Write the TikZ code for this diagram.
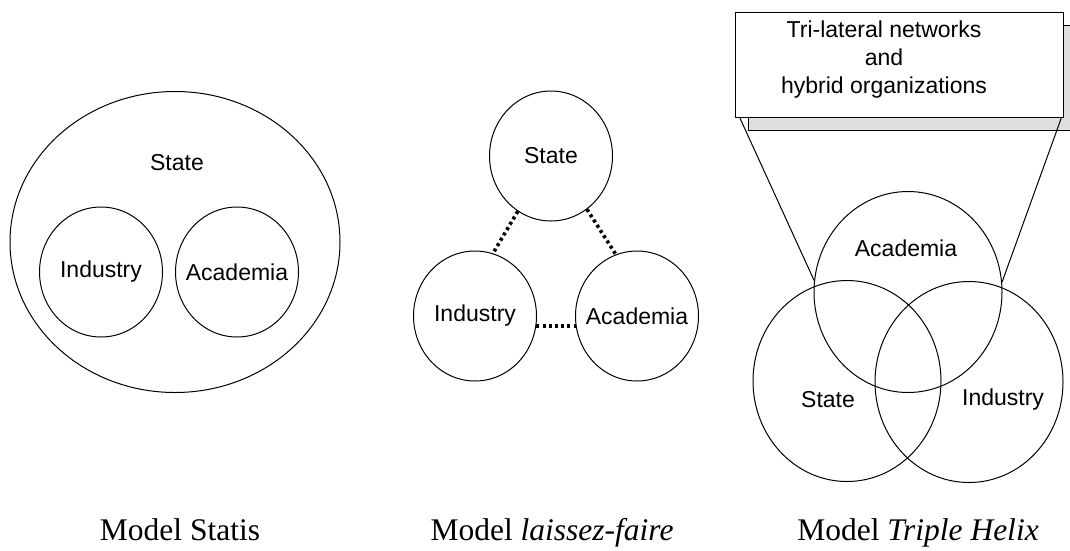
\documentclass[tikz,border=0pt]{standalone}
\usepackage{fontspec}
\setmainfont{Liberation Serif}
\setsansfont{Liberation Sans}
\usetikzlibrary{shapes.geometric}
\tikzset{
  lbl/.style={font=\sffamily\fontsize{23}{28}\selectfont},
  orb/.style={draw, ellipse, line width=1pt, inner sep=0pt, minimum width=123pt, minimum height=130pt, label={[lbl]center:#1}},
  bigorb/.style={draw, ellipse, line width=1pt, inner sep=0pt, minimum width=188pt, minimum height=201pt},
  link/.style={line width=3.6pt, dash pattern=on 3pt off 3.2pt},
  modelcap/.style={anchor=base, font=\fontsize{31.5}{36}\selectfont}
}
\begin{document}
\begin{tikzpicture}[x=1pt,y=-1pt]
        \useasboundingbox (0,0) rectangle (1070,550);
        \node[draw, ellipse, line width=1pt, minimum width=330pt, minimum height=301pt] (outer) at (175,242) {};
        \node[lbl] (outerlbl) at (177,163) {State};
        \node[orb=Industry] (ind1) at (101,272) {};
        \node[orb=Academia] (aca1) at (237,272) {};

        \node[orb=State] (st2) at (551,156) {};
        \node[orb=Industry] (ind2) at (475,316) {};
        \node[orb=Academia] (aca2) at (637,316) {};
        \draw[link] (st2.239) -- (ind2.74);
        \draw[link] (st2.304) -- (aca2.109);
        \draw[link] (ind2.-9) -- (aca2.189);

        \node[draw, fill=gray!25, line width=1.2pt, minimum width=330pt, minimum height=105pt, anchor=north west] (shade) at (748,25) {};
        \node[draw, fill=white, line width=1.2pt, minimum width=328pt, minimum height=105pt, anchor=north west] (box) at (735,12) {};
        \node[lbl, align=center] (boxtxt) at (884,60) {Tri-lateral networks\\and\\hybrid organizations};
        \node[bigorb] (aca3) at (908,292) {};
        \node[bigorb] (st3) at (847,381) {};
        \node[bigorb] (ind3) at (969,382) {};
        \node[lbl] (aca3lbl) at (906,248) {Academia};
        \node[lbl] (st3lbl) at (828,400) {State};
        \node[lbl] (ind3lbl) at (1003,400) {Industry};
        \draw[line width=1pt] ([xshift=5pt]box.south west) -- (aca3.173);
        \draw[line width=1pt] ([xshift=-3pt]box.south east) -- (aca3.6);

        \node[modelcap] (capA) at (180,540) {Model Statis};
        \node[modelcap] (capB) at (552,540) {Model \textit{laissez-faire}};
        \node[modelcap] (capC) at (918,540) {Model \textit{Triple Helix}};
      \end{tikzpicture}
\end{document}
